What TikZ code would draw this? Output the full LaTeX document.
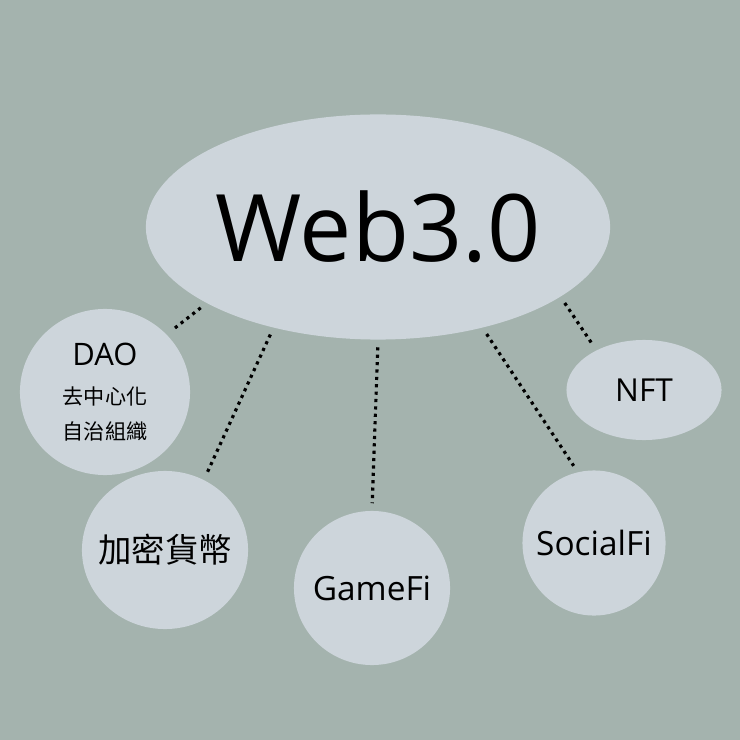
\documentclass[tikz,border=0pt]{standalone}
\usepackage{fontspec}
\setmainfont{Open Sans}
\newfontfamily\cjk{Noto Sans CJK TC}
\usetikzlibrary{shapes.geometric,positioning}
\definecolor{bgcol}{HTML}{A4B3AE}
\definecolor{bubble}{HTML}{CDD5DB}
\tikzset{
  bubble/.style={ellipse,fill=bubble,inner sep=-12pt,align=center},
  link/.style={line width=0.9pt,dash pattern=on 0.9pt off 1.2pt,shorten <=2pt,shorten >=2pt}
}
\begin{document}
\begin{tikzpicture}[x=0.01cm,y=-0.01cm]
		\fill[bgcol] (0,0) rectangle (740,740);
		\useasboundingbox (0,0) rectangle (740,740);
		% bubbles
		\node[bubble,minimum width=4.64cm,minimum height=2.25cm,font=\fontsize{26.5}{30}\selectfont] (web) at (378,227) {Web3.0};
		\node[bubble,minimum width=1.7cm,minimum height=1.66cm,font=\fontsize{6}{10}\selectfont] (dao) at (105,392)
			{{\fontsize{8.8}{12}\selectfont DAO}\\[1pt]\cjk 去中心化\\\cjk 自治組織};
		\node[bubble,minimum width=1.66cm,minimum height=1.58cm,font=\cjk\fontsize{9.5}{12}\selectfont] (coin) at (165,550) {加密貨幣};
		\node[bubble,minimum width=1.56cm,minimum height=1.54cm,font=\fontsize{9.5}{12}\selectfont] (game) at (372,588) {GameFi};
		\node[bubble,minimum width=1.43cm,minimum height=1.45cm,font=\fontsize{9.5}{12}\selectfont] (social) at (594,543) {SocialFi};
		\node[bubble,minimum width=1.55cm,minimum height=1.0cm,font=\fontsize{9}{12}\selectfont] (nft) at (644,390) {NFT};
		% dotted links
		\draw[link] (web.204) -- (dao.43);
		\draw[link] (web.224) -- (coin.61);
		\draw[link] (web.270) -- (game.90);
		\draw[link] (web.-44) -- (social.103);
		\draw[link] (web.-21) -- (nft.140);
\end{tikzpicture}
\end{document}
